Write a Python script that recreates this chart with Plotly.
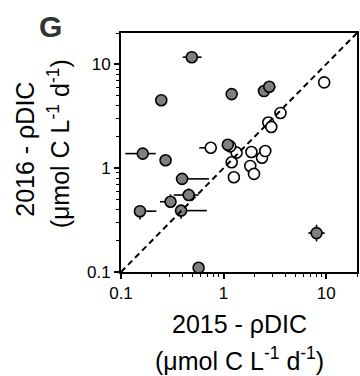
import math
import plotly.graph_objects as go

# Sites with a significant change between years (filled) and without (open)
gray_x = [0.49, 0.247, 1.20, 2.48, 2.79, 0.163, 0.272, 1.10, 0.394, 0.457, 0.304, 0.385, 0.153, 0.571, 8.06]
gray_y = [11.7, 4.51, 5.16, 5.52, 6.07, 1.38, 1.19, 1.68, 0.788, 0.551, 0.475, 0.390, 0.385, 0.110, 0.237]
gray_x_lo = [0.40, 0.247, 1.20, 2.48, 2.79, 0.110, 0.272, 1.10, 0.394, 0.327, 0.240, 0.385, 0.153, 0.571, 6.70]
gray_x_hi = [0.61, 0.247, 1.20, 2.48, 3.20, 0.218, 0.272, 1.10, 0.720, 0.571, 0.304, 0.687, 0.221, 0.571, 9.70]
gray_y_lo = [11.7, 4.51, 5.16, 5.52, 6.07, 1.38, 1.19, 1.68, 0.788, 0.551, 0.475, 0.325, 0.320, 0.110, 0.197]
gray_y_hi = [11.7, 4.51, 5.16, 5.52, 6.07, 1.38, 1.19, 1.68, 0.788, 0.640, 0.560, 0.390, 0.385, 0.110, 0.285]

open_x = [9.57, 3.59, 2.73, 2.92, 0.75, 1.34, 1.20, 1.26, 1.87, 1.82, 1.98, 2.37, 2.55, 1.16]
open_y = [6.70, 3.40, 2.75, 2.49, 1.57, 1.41, 1.14, 0.817, 1.43, 1.05, 0.88, 1.26, 1.46, 1.62]
open_x_lo = [9.57, 3.59, 2.73, 2.92, 0.58, 1.34, 1.20, 1.26, 1.87, 1.82, 1.98, 2.37, 2.55, 1.16]

axis_min, axis_max = 0.1, 20
tick_vals = [0.1, 1, 10]
tick_text = ["0.1", "1", "10"]

FONT = "Arial, Liberation Sans, sans-serif"


def err(vals, lo, hi):
    return dict(
        type="data", symmetric=False,
        array=[h - v for v, h in zip(vals, hi)],
        arrayminus=[v - l for v, l in zip(vals, lo)],
        color="black", thickness=1.6, width=0,
    )


fig = go.Figure()

fig.add_trace(go.Scatter(
    x=open_x, y=open_y, mode="markers",
    error_x=err(open_x, open_x_lo, open_x),
    marker=dict(size=11, color="white", line=dict(color="black", width=1.6)),
    showlegend=False,
))

fig.add_trace(go.Scatter(
    x=gray_x, y=gray_y, mode="markers",
    error_x=err(gray_x, gray_x_lo, gray_x_hi),
    error_y=err(gray_y, gray_y_lo, gray_y_hi),
    marker=dict(size=11, color="#7f7f7f", line=dict(color="black", width=1.6)),
    showlegend=False,
))

# 1:1 line
fig.add_trace(go.Scatter(
    x=[axis_min, axis_max], y=[axis_min, axis_max], mode="lines",
    line=dict(color="black", width=2, dash="6px,4px"),
    showlegend=False, hoverinfo="skip",
))

axis_common = dict(
    type="log",
    range=[math.log10(axis_min), math.log10(axis_max)],
    tickmode="array", tickvals=tick_vals, ticktext=tick_text,
    ticks="outside", ticklen=5, tickwidth=1.6, tickcolor="black",
    minor=dict(ticks="outside", ticklen=3, tickwidth=1.2, tickcolor="black",
               dtick="D1", showgrid=False),
    showline=True, linecolor="black", linewidth=2, mirror=True,
    showgrid=False, zeroline=False,
    tickfont=dict(family=FONT, size=17, color="black"),
)

fig.update_layout(
    width=360, height=376,
    margin=dict(l=121, r=1, t=33, b=104),
    paper_bgcolor="white", plot_bgcolor="white",
    xaxis=axis_common, yaxis=axis_common,
    font=dict(family=FONT, color="black"),
)

title_font = dict(family=FONT, size=25, color="black")
fig.add_annotation(text="2015 - ρDIC", xref="paper", yref="paper",
                   x=0.504, y=-0.2176, xanchor="center", yanchor="middle",
                   showarrow=False, font=title_font)
fig.add_annotation(text="(μmol C L<sup>-1</sup> d<sup>-1</sup>)", xref="paper", yref="paper",
                   x=0.504, y=-0.364, xanchor="center", yanchor="middle",
                   showarrow=False, font=title_font)
fig.add_annotation(text="2016 - ρDIC", xref="paper", yref="paper",
                   x=-0.4076, y=0.515, xanchor="center", yanchor="middle",
                   textangle=-90, showarrow=False, font=title_font)
fig.add_annotation(text="(μmol C L<sup>-1</sup> d<sup>-1</sup>)", xref="paper", yref="paper",
                   x=-0.265, y=0.536, xanchor="center", yanchor="middle",
                   textangle=-90, showarrow=False, font=title_font)
fig.add_annotation(text="<b>G</b>", xref="paper", yref="paper",
                   x=-0.298, y=1.029, xanchor="center", yanchor="middle",
                   showarrow=False, font=dict(family=FONT, size=30, color="#333333"))

fig.write_html("out.html")
